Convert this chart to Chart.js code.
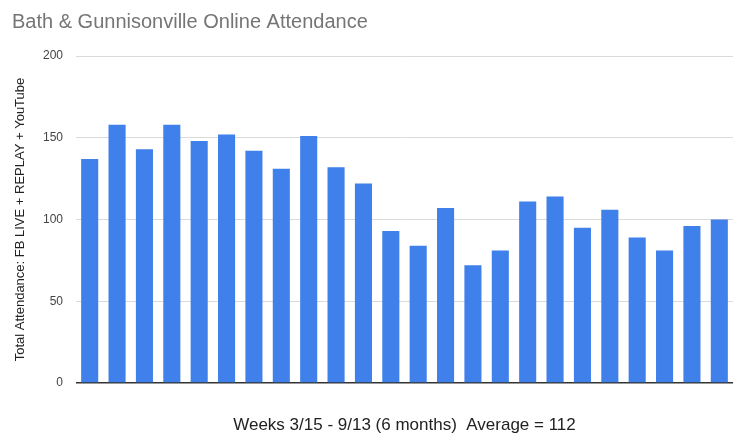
<!DOCTYPE html>
<html>
<head>
<meta charset="utf-8">
<script src="https://cdn.jsdelivr.net/npm/chart.js@4/dist/chart.umd.min.js"></script>
<style>
  html, body { margin: 0; padding: 0; background: #fff; }
  #wrap { width: 733px; height: 436px; }
</style>
</head>
<body>
<div id="wrap"><canvas id="chart" width="733" height="436"></canvas></div>
<script>
// weekly totals
const weeks = ["3/15", "3/22", "3/29", "4/5", "4/12", "4/19", "4/26", "5/3",
  "5/10", "5/17", "5/24", "5/31", "6/7", "6/14", "6/21", "6/28",
  "7/5", "7/12", "7/19", "7/26", "8/2", "8/9", "8/16", "8/23"];
const attendance = [137, 158, 143, 158, 148, 152, 142, 131,
  151, 132, 122, 93, 84, 107, 72, 81,
  111, 114, 95, 106, 89, 81, 96, 100];
const yTicks = [0, 50, 100, 150, 200];

const font = "'Liberation Sans', Arial, sans-serif";

new Chart(document.getElementById("chart"), {
  type: "bar",
  data: {
    labels: weeks,
    datasets: [{
      data: attendance,
      backgroundColor: "#3f80ea",
      borderWidth: 0,
      categoryPercentage: 0.8,
      barPercentage: 0.78,
    }],
  },
  options: {
    responsive: false,
    animation: false,
    layout: { padding: { left: 12, right: 0, top: 0, bottom: 0 } },
    plugins: {
      legend: { display: false },
      tooltip: { enabled: false },
      title: {
        display: true,
        text: "Bath & Gunnisonville Online Attendance",
        align: "start",
        color: "#757575",
        font: { family: font, size: 20, weight: "normal" },
        padding: { top: 10, bottom: 22 },
      },
    },
    scales: {
      x: {
        grid: { display: false, drawTicks: false },
        border: { display: false },
        ticks: { display: false },
        title: {
          display: true,
          text: "Weeks 3/15 - 9/13 (6 months)  Average = 112",
          color: "#222",
          font: { family: font, size: 17 },
          padding: { top: 0, bottom: 0 },
        },
        afterFit: (s) => { s.height = 53; },
      },
      y: {
        min: 0,
        max: 200,
        afterBuildTicks: (s) => { s.ticks = yTicks.map((v) => ({ value: v })); },
        grid: {
          drawTicks: false,
          color: (c) => (c.tick && c.tick.value === 0 ? "#333" : "#dadada"),
          lineWidth: (c) => (c.tick && c.tick.value === 0 ? 1.5 : 1),
        },
        border: { display: false },
        ticks: {
          color: "#444",
          padding: 13,
          font: { family: font, size: 12 },
        },
        title: {
          display: true,
          text: "Total Attendance: FB LIVE + REPLAY + YouTube",
          color: "#222",
          font: { family: font, size: 13 },
          padding: { top: 1, bottom: 0 },
        },
        afterFit: (s) => { s.width = 64; },
      },
    },
  },
});
</script>
</body>
</html>
